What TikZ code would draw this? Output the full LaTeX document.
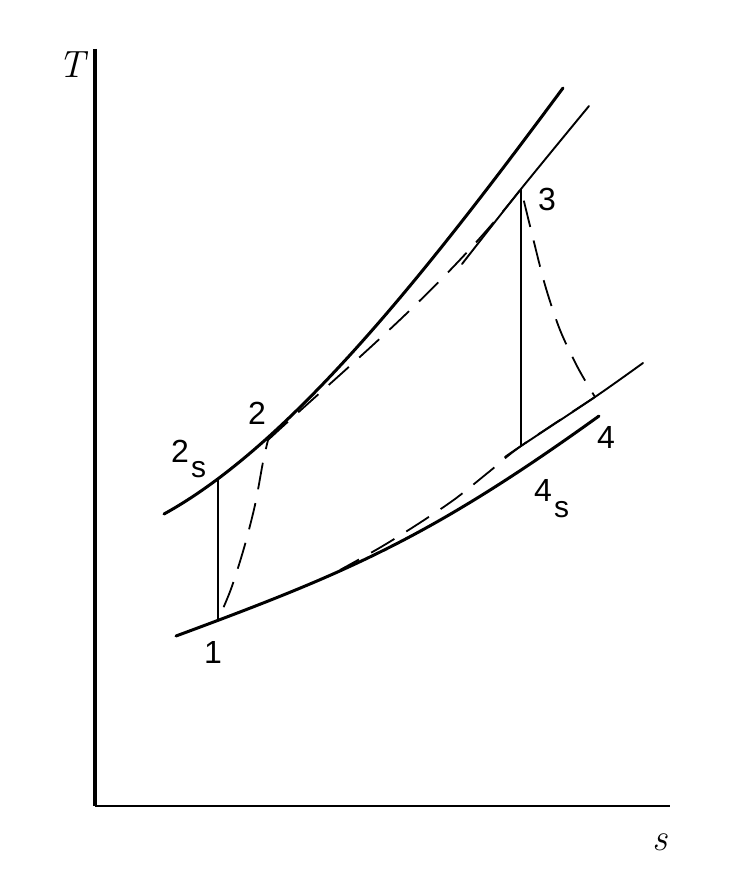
\documentclass[tikz,border=0pt]{standalone}
\usepackage{fontspec}
\newfontfamily\labfont{Liberation Sans}
\begin{document}
\begin{tikzpicture}[x=1pt,y=-1pt,
  thickcurve/.style={line width=3pt, line cap=round},
  thincurve/.style={line width=1.9pt, line cap=round},
  vline/.style={line width=2.4pt},
  process/.style={line width=1.8pt, dash pattern=on 27pt off 14pt},
  vaxis/.style={line width=3.2pt},
  haxis/.style={line width=2.3pt},
  lbl/.style={font=\labfont\fontsize{32}{32}\selectfont, inner sep=0pt},
  axlbl/.style={font=\fontsize{38}{40}\selectfont\itshape, inner sep=0pt}]
\useasboundingbox (0,0) rectangle (733,869);
\fill[white] (0,0) rectangle (733,869);

% axes
\coordinate (O) at (95,806);
\coordinate (Ttop) at (95,49);
\coordinate (Send) at (670,806);
\draw[vaxis] (Ttop) -- (O);
\draw[haxis] (O) -- (Send);
\node[axlbl] (lT) at (72,65) {T};
\node[axlbl] (ls) at (660,842) {s};

% state points
\coordinate (p1) at (218,620);
\coordinate (p2s) at (218,479);
\coordinate (p2) at (268,440);
\coordinate (p3) at (521,189);
\coordinate (p4s) at (521,446);
\coordinate (p4) at (595,397);

% isobar ends
\coordinate (hiA) at (164,514);
\coordinate (hiB) at (563,88);
\coordinate (loA) at (176,636);
\coordinate (loB) at (599,416);

% isobars
\draw[thickcurve] (hiA) .. controls (294,442.5) and (433,263.5) .. (hiB);
\draw[thincurve] plot[smooth] coordinates {(462,264) (p3) (589,106)};
\draw[thickcurve] (loA) .. controls (346,573.1) and (429,538.4) .. (loB);
\draw[thincurve] plot[smooth] coordinates {(505,457) (p4s) (p4) (643,363)};

% isentropic processes
\draw[vline] (p1) -- (p2s);
\draw[vline] (p3) -- (p4s);

% actual processes
\draw[process, dash phase=27pt] plot[smooth] coordinates {(p1) (231,589) (244,548) (255,505) (263,462) (p2)};
\draw[process] (p2) .. controls (350,364) and (441,291) .. (p3);
\draw[process, dash phase=29pt] plot[smooth] coordinates {(p3) (531,230) (545,285) (560,330) (578,368) (p4)};
\draw[process] plot[smooth] coordinates {(p4) (p4s) (490,471) (455,499) (418,524) (381,547) (340,570)};

% labels
\node[lbl] (l1) at (213,652) {1};
\node[lbl] (l2) at (257,413) {2};
\node[lbl, anchor=base west] (l2s) at (171,462) {2\kern2pt\raisebox{-15pt}{\fontsize{30}{30}\selectfont s}};
\node[lbl] (l3) at (547,199) {3};
\node[lbl] (l4) at (606,437) {4};
\node[lbl, anchor=base west] (l4s) at (534,501) {4\kern2pt\raisebox{-16pt}{\fontsize{30}{30}\selectfont s}};
\end{tikzpicture}
\end{document}
